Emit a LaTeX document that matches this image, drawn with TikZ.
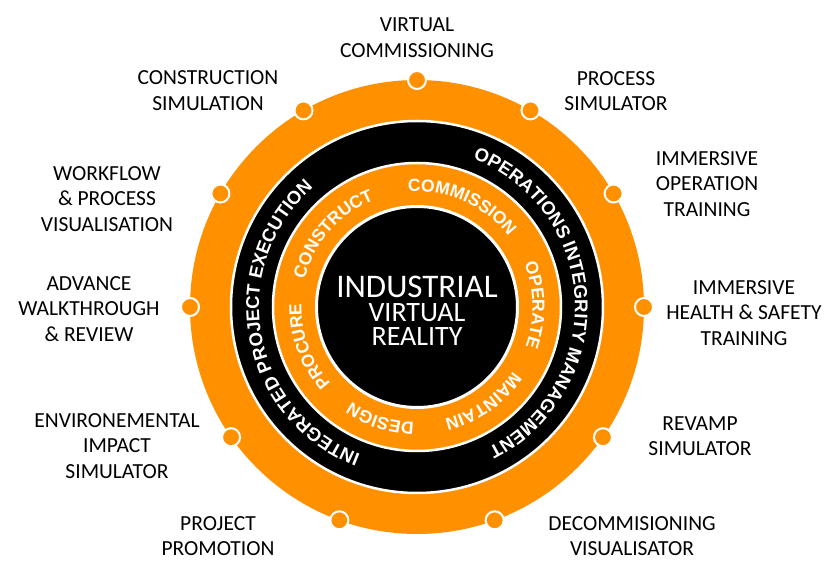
\documentclass[tikz,border=0pt]{standalone}
\usepackage{fontspec}
\setmainfont{Carlito}
\newfontfamily\arialfont{Liberation Sans}
\usetikzlibrary{
  positioning,
  decorations.text
}
\definecolor{vrorange}{HTML}{FF9100}
\definecolor{vrblack}{HTML}{000000}
\newcommand{\ringbig}{\arialfont\bfseries\fontsize{18.5}{18.5}\selectfont\color{white}}
\newcommand{\ringsmall}{\arialfont\bfseries\fontsize{17.5}{17.5}\selectfont\color{white}}

\begin{document}
\begin{tikzpicture}[x=1pt, y=1pt,
      dot/.style={
        circle, fill=vrorange, draw=white, line width=2pt,
        minimum size=18pt, inner sep=0pt
      },
      core/.style={
        circle, fill=vrblack, draw=white, line width=3pt,
        minimum size=201pt, inner sep=0pt
      },
      lbl/.style={
        align=center, inner sep=0pt, text=vrblack,
        font=\fontsize{21.5}{25.5}\selectfont
      },
      arctext/.style={
        decorate,
        decoration={text along path, text align=center, text={#1}}
      }
    ]
      \useasboundingbox (-417,-276) rectangle (413,307);

      % Rings
      \fill[vrorange] (0,0) circle[radius=227];
      \draw[white, line width=2.5pt, fill=vrblack] (0,0) circle[radius=186];
      \draw[white, line width=2.5pt, fill=vrorange] (0,0) circle[radius=144];

      % Core
      \node[core] (core) at (0,0) {};
      \node[text=white, align=center, inner sep=0pt,
            font=\fontsize{28}{24}\selectfont] (title)
            at ([yshift=-4pt]core.center)
            {{\fontsize{33}{24}\selectfont INDUSTRIAL}\\VIRTUAL\\REALITY};

      % Outer ring text
      \path[arctext={|\ringbig|OPERATIONS INTEGRITY MANAGEMENT}]
        (93:158) arc[start angle=93, end angle=-87, radius=158];
      \path[arctext={|\ringbig|INTEGRATED PROJECT EXECUTION}]
        (280:158) arc[start angle=280, end angle=100, radius=158];

      % Inner ring text
      \foreach \a/\w in {139/CONSTRUCT, 66/COMMISSION, 1/OPERATE,
                         -55/MAINTAIN, -108/DESIGN, 200/PROCURE}
        \path[arctext={|\ringsmall|\w}]
          (\a+35:115.5) arc[start angle=\a+35, end angle=\a-35, radius=115.5];

      % Dots
      \foreach \a [count=\i] in {90,60,30,0,-35,-70,-110,-145,180,150,120}
        \node[dot] (dot\i) at (\a:227) {};

      % Labels
      \node[lbl] (vcomm) at (0,269.5) {VIRTUAL\\COMMISSIONING};
      \node[lbl] (psim) at (199,216) {PROCESS\\SIMULATOR};
      \node[lbl] (optrain) at (290,123) {IMMERSIVE\\OPERATION\\TRAINING};
      \node[lbl] (hstrain) at (327,-6) {IMMERSIVE\\HEALTH \& SAFETY\\TRAINING};
      \node[lbl] (revamp) at (283,-129) {REVAMP\\SIMULATOR};
      \node[lbl] (decomm) at (215,-229) {DECOMMISIONING\\VISUALISATOR};
      \node[lbl] (promo) at (-199,-229) {PROJECT\\PROMOTION};
      \node[lbl] (envsim) at (-300,-139) {ENVIRONEMENTAL\\IMPACT\\SIMULATOR};
      \node[lbl] (walk) at (-328,-2) {ADVANCE\\WALKTHROUGH\\\& REVIEW};
      \node[lbl] (workflow) at (-310,108) {WORKFLOW\\\& PROCESS\\VISUALISATION};
      \node[lbl] (csim) at (-209,216.5) {CONSTRUCTION\\SIMULATION};
    \end{tikzpicture}
\end{document}
